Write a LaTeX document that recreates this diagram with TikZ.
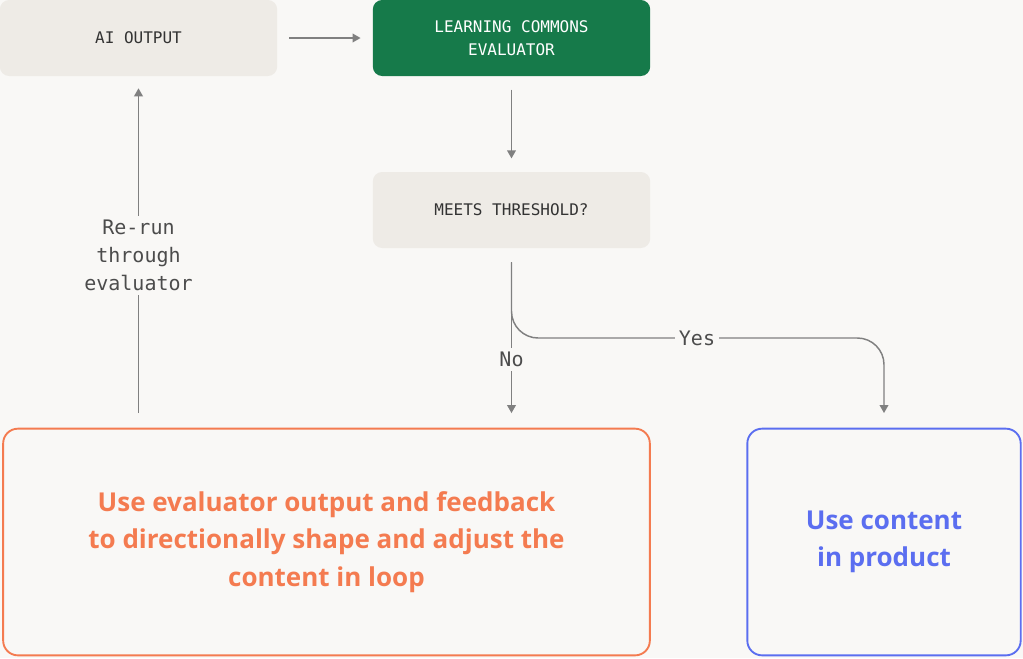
\documentclass[tikz,border=0pt]{standalone}
\usepackage{fontspec}
\setmainfont{Open Sans}
\newfontfamily\monofont{DejaVu Sans Mono}
\usetikzlibrary{positioning,arrows.meta}

\definecolor{bgcol}{HTML}{F9F8F6}
\definecolor{boxgray}{HTML}{EEEBE6}
\definecolor{evalgreen}{HTML}{167A4A}
\definecolor{loopred}{HTML}{F47B50}
\definecolor{prodblue}{HTML}{5B6EF0}
\definecolor{linegray}{HTML}{808080}

\tikzset{
    stage/.style={rounded corners=7pt, minimum width=208pt, minimum height=57pt,
        align=center, font=\monofont\fontsize{12}{17}\selectfont, text=black!80},
    outcome/.style={rounded corners=11pt, line width=1.4pt, fill=bgcol,
        align=center, font=\fontsize{19.5}{28}\selectfont\bfseries},
    flow/.style={linegray, line width=1.1pt, -{Triangle[length=6pt,width=6.5pt]}},
    tag/.style={fill=bgcol, inner sep=3pt, text=black!70,
        font=\monofont\fontsize{15}{21}\selectfont, align=center}
}

\begin{document}
\begin{tikzpicture}[x=0.75pt, y=-0.75pt]

    %% Canvas
    \fill[bgcol] (0,0) rectangle (1023,658);
    \useasboundingbox (0,0) rectangle (1023,658);

    %% Stages
    \node[stage, fill=boxgray] (aiout) at (138.5,38) {AI OUTPUT};
    \node[stage, fill=evalgreen, text=white] (evaluator) at (511.5,38) {LEARNING COMMONS\\EVALUATOR};
    \node[stage, fill=boxgray] (threshold) at (511.5,210) {MEETS THRESHOLD?};

    %% Outcomes
    \node[outcome, draw=loopred, text=loopred, minimum width=485pt, minimum height=170pt]
        (adjust) at (326.5,542) {Use evaluator output and feedback\\to directionally shape and adjust the\\content in loop};
    \node[outcome, draw=prodblue, text=prodblue, minimum width=205pt, minimum height=170pt]
        (product) at (884,542) {Use content\\in product};

    \coordinate (bend) at (697,338);

    %% Connectors
    \draw[flow, shorten <=9pt, shorten >=9pt] (aiout) -- (evaluator);
    \draw[flow, shorten <=10pt, shorten >=10pt] (evaluator) -- (threshold);
    \draw[flow, shorten <=10.5pt, shorten >=11pt] (threshold.south) -- (threshold.south |- adjust.north)
        node[tag, pos=0.62] (no) {No};
    \draw[flow, rounded corners=20pt, shorten <=10.5pt, shorten >=11pt]
        (threshold.south) |- (bend) -| (product.north);
    \node[tag] (yes) at (bend) {Yes};
    \draw[flow, shorten <=11pt, shorten >=9pt] (aiout.south |- adjust.north) -- (aiout.south)
        node[tag, pos=0.49] (rerun) {Re-run\\through\\evaluator};

\end{tikzpicture}
\end{document}
